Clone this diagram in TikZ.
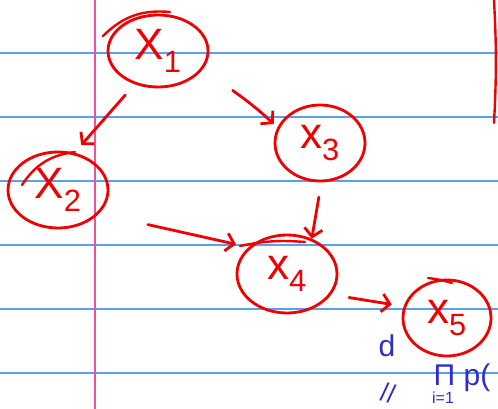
\documentclass[tikz,border=0pt]{standalone}
\usepackage{fontspec}
\setsansfont{Liberation Sans}
\usetikzlibrary{arrows.meta,shapes.geometric,calc}
\definecolor{ink}{RGB}{240,0,0}
\definecolor{rulecol}{RGB}{90,160,240}
\definecolor{margincol}{RGB}{240,80,160}
\definecolor{pen}{RGB}{45,45,205}
\begin{document}
\begin{tikzpicture}[x=1pt,y=-1pt,
  var/.style={ellipse,draw=ink,line width=2.8pt,inner sep=0pt,text=ink,
    font=\sffamily\fontsize{44}{44}\selectfont},
  arr/.style={draw=ink,line width=2.8pt,line cap=round,
    -{Straight Barb[length=8pt,width=18pt]}},
  extra/.style={draw=ink,line width=2.4pt,line cap=round},
  paper/.style={draw=rulecol,line width=1.3pt},
  note/.style={text=pen,font=\sffamily\fontsize{30}{30}\selectfont}]
\useasboundingbox (0,0) rectangle (498,409);
\fill[white] (0,0) rectangle (498,409);
\foreach \y in {53,117,181,245,309,373} \draw[paper] (0,\y) -- (498,\y);
\draw[margincol,line width=1.6pt] (95,0) -- (95,409);
\draw[extra] (494,0) to[bend left=3] (494,123);

\node[var,minimum width=100pt,minimum height=72pt] (x1) at (158,51) {X\textsubscript{1}};
\node[var,minimum width=100pt,minimum height=76pt] (x2) at (58,190) {X\textsubscript{2}};
\node[var,minimum width=90pt,minimum height=76pt] (x3) at (320,143) {x\textsubscript{3}};
\node[var,minimum width=100pt,minimum height=78pt] (x4) at (287,274) {x\textsubscript{4}};
\node[var,minimum width=88pt,minimum height=76pt] (x5) at (447,318) {x\textsubscript{5}};

\draw[extra] (103,36) to[bend left=25] (170,12);
\draw[extra] (22,185) to[bend left=25] (75,152);
\draw[extra] (240,246) to[bend left=8] (305,242);
\draw[extra] (428,278) to[bend left=5] (452,283);

\draw[arr,shorten <=14pt,shorten >=10pt] (x1.-125) -- (x2.66);
\draw[arr,shorten <=40pt,shorten >=5pt] (x1.-35) to[bend left=12] (x3.160);
\draw[arr,shorten <=50pt,shorten >=13pt] (x2.-30) -- (x4.145);
\draw[arr,shorten <=15pt,shorten >=0pt] (x3.-88) -- (x4.55);
\draw[arr,shorten <=18pt,shorten >=12pt] (x4.-25) -- (x5.165);

\node[note] (d) at (387,346) {d};
\node[note] (prod) at (462,378) {Π p(};
\node[note,rotate=-10,font=\sffamily\fontsize{26}{26}\selectfont] (eq) at (388,393) {//};
\node[note,font=\sffamily\fontsize{16}{16}\selectfont] (idx) at (443,398) {i=1};
\end{tikzpicture}
\end{document}
